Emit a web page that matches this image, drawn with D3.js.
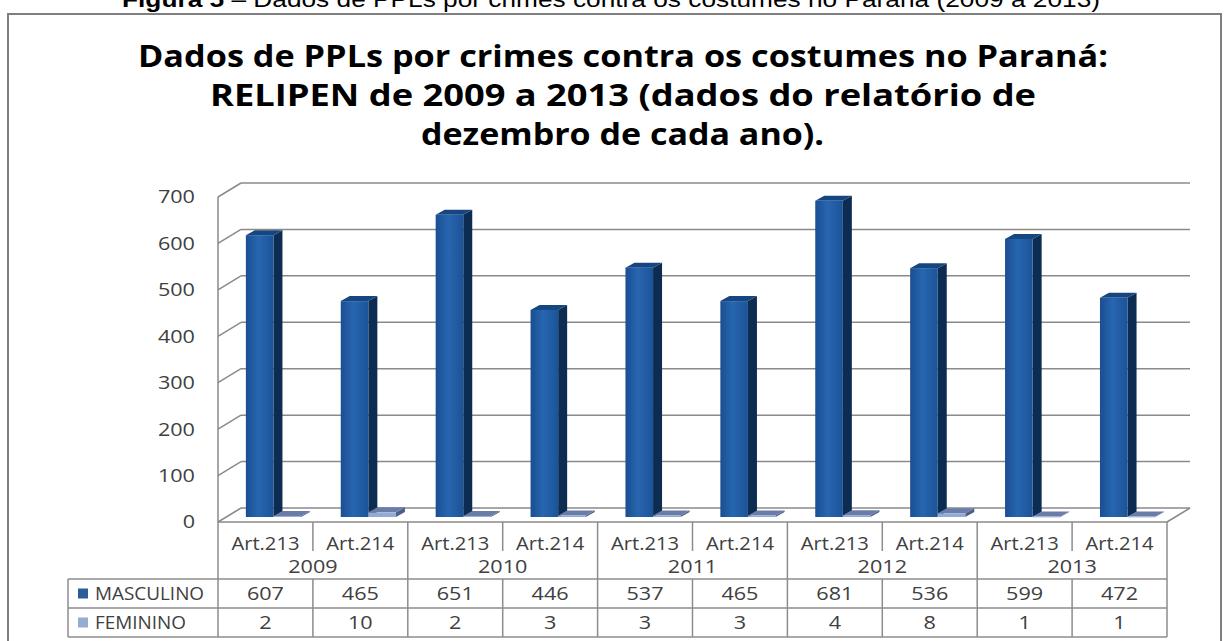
<!DOCTYPE html>
<meta charset="utf-8">
<style>
  body { margin: 0; background: #fff; }
  svg { display: block; }
  .grid { stroke: #8a8a8a; stroke-width: 1.5; fill: none; }
  .tbl { stroke: #8c8c8c; stroke-width: 1.5; fill: none; }
  .lbl { font-family: "Open Sans", sans-serif; font-size: 18px; fill: #404040; }
  .title { font-family: "Open Sans", sans-serif; font-weight: bold; font-size: 31px; fill: #000; }
</style>
<body>
<script src="https://d3js.org/d3.v7.min.js"></script>
<script>

var years = ["2009", "2010", "2011", "2012", "2013"];
var articles = ["Art.213", "Art.214"];
var categories = ["2009|Art.213", "2009|Art.214", "2010|Art.213", "2010|Art.214", "2011|Art.213",
                  "2011|Art.214", "2012|Art.213", "2012|Art.214", "2013|Art.213", "2013|Art.214"];
var masculino = [607, 465, 651, 446, 537, 465, 681, 536, 599, 472];
var feminino = [2, 10, 2, 3, 3, 3, 4, 8, 1, 1];
var series = ["MASCULINO", "FEMININO"];
var yTicks = [0, 100, 200, 300, 400, 500, 600, 700];
var titleLines = ["Dados de PPLs por crimes contra os costumes no Paraná:",
                  "RELIPEN de 2009 a 2013 (dados do relatório de",
                  "dezembro de cada ano)."];

var W = 1228, H = 641;
var svg = d3.select("body").append("svg").attr("width", W).attr("height", H);

// 3d depth of the plot box (back wall is shifted right/up)
var DX = 23, DY = -14;
var x0 = 218, x1 = 1167;

var x = d3.scaleBand().domain(categories).range([x0, x1]);
var xs = d3.scaleBand().domain(series).range([0, x.bandwidth()]).paddingOuter(0.72);
var y = d3.scaleLinear().domain([0, 700]).range([522, 197]);

// stretch text horizontally like the original (wide Calibri)
function stretch(sel, k) {
  sel.each(function() {
    var l = this.getComputedTextLength();
    this.setAttribute("textLength", l * k);
    this.setAttribute("lengthAdjust", "spacingAndGlyphs");
  });
}

// outer frame
svg.append("rect").attr("x", 8).attr("y", 14).attr("width", 1213).attr("height", 640)
  .attr("fill", "none").attr("stroke", "#7f7f7f").attr("stroke-width", 2);

// caption (partially cut at the top)
var cap = svg.append("text").attr("x", 122).attr("y", 7)
  .style("font-family", "'Liberation Sans', Arial, sans-serif").style("font-size", "22px");
cap.append("tspan").style("font-weight", "bold").text("Figura 5");
cap.append("tspan").text(" – Dados de PPLs por crimes contra os costumes no Paraná (2009 a 2013)");
cap.attr("textLength", 978).attr("lengthAdjust", "spacingAndGlyphs");

// title
var tPos = [[138, 1108, 67], [210, 1036, 106], [421, 824, 145]];
svg.selectAll(".title").data(titleLines).join("text")
  .attr("class", "title")
  .attr("x", function(d, i) { return tPos[i][0]; })
  .attr("y", function(d, i) { return tPos[i][2]; })
  .attr("textLength", function(d, i) { return tPos[i][1] - tPos[i][0]; })
  .attr("lengthAdjust", "spacingAndGlyphs")
  .text(function(d) { return d; });

// gridlines: back wall + left wall diagonals
var g = svg.append("g");
g.selectAll(".gb").data(yTicks).join("line").attr("class", "grid")
  .attr("x1", x0 + DX).attr("x2", x1 + DX)
  .attr("y1", function(d) { return y(d) + DY; }).attr("y2", function(d) { return y(d) + DY; });
g.selectAll(".gl").data(yTicks).join("line").attr("class", "grid")
  .attr("x1", x0).attr("x2", x0 + DX)
  .attr("y1", function(d) { return y(d); }).attr("y2", function(d) { return y(d) + DY; });
// front vertical axis + floor
g.append("line").attr("class", "grid").attr("x1", x0).attr("x2", x0).attr("y1", y(700)).attr("y2", y(0));
g.append("line").attr("class", "grid").attr("x1", x0).attr("x2", x1).attr("y1", y(0)).attr("y2", y(0));
g.append("line").attr("class", "grid").attr("x1", x1).attr("x2", x1 + DX).attr("y1", y(0)).attr("y2", y(0) + DY);

// y tick labels
svg.selectAll(".yt").data(yTicks).join("text").attr("class", "lbl")
  .attr("x", 195).attr("y", function(d) { return y(d); }).attr("dy", "0.36em")
  .attr("text-anchor", "end").text(function(d) { return d; })
  .call(stretch, 1.2);

// 3d columns
var defs = svg.append("defs");
var grad = defs.append("linearGradient").attr("id", "mfront").attr("x1", 0).attr("x2", 1).attr("y1", 0).attr("y2", 0);
grad.append("stop").attr("offset", "0%").attr("stop-color", "#1a4e91");
grad.append("stop").attr("offset", "45%").attr("stop-color", "#2766b0");
grad.append("stop").attr("offset", "100%").attr("stop-color", "#1c5398");

var bf = {dx: 8, dy: -5}, bd = {dx: 9, dy: -5};
var colors = {
  MASCULINO: {front: "url(#mfront)", side: "#0c2c52", top: "#15467f"},
  FEMININO: {front: "#93a9d6", side: "#4d5f88", top: "#6a7ca8"}
};
var barData = [];
categories.forEach(function(c, i) {
  barData.push({cat: c, s: "MASCULINO", v: masculino[i]});
  barData.push({cat: c, s: "FEMININO", v: feminino[i]});
});
var bars = svg.append("g").selectAll("g").data(barData).join("g");
bars.each(function(d) {
  var el = d3.select(this);
  var L = x(d.cat) + xs(d.s) + bf.dx, R = L + xs.bandwidth();
  var B = y(0) + bf.dy, T = y(d.v) + bf.dy;
  var c = colors[d.s];
  el.append("polygon").attr("fill", c.side)
    .attr("points", [[R, B], [R + bd.dx, B + bd.dy], [R + bd.dx, T + bd.dy], [R, T]].join(" "));
  el.append("polygon").attr("fill", c.top)
    .attr("points", [[L, T], [R, T], [R + bd.dx, T + bd.dy], [L + bd.dx, T + bd.dy]].join(" "));
  el.append("rect").attr("fill", c.front).attr("x", L).attr("y", T)
    .attr("width", R - L).attr("height", Math.max(B - T, 0.8));
});

// data table
var rowCat = 544, rowYear = 567, rM = [579, 608], rF = [608, 637];
var t = svg.append("g");
// horizontal lines
t.append("line").attr("class", "tbl").attr("x1", 68).attr("x2", x1).attr("y1", rM[0]).attr("y2", rM[0]);
t.append("line").attr("class", "tbl").attr("x1", 68).attr("x2", x1).attr("y1", rF[0]).attr("y2", rF[0]);
t.append("line").attr("class", "tbl").attr("x1", 68).attr("x2", x1).attr("y1", rF[1]).attr("y2", rF[1]);
t.append("line").attr("class", "tbl").attr("x1", 68).attr("x2", 68).attr("y1", rM[0]).attr("y2", rF[1]);
// vertical lines
categories.forEach(function(c, i) {
  var xx = x(c);
  var yearEdge = i % 2 === 0;
  t.append("line").attr("class", "tbl").attr("x1", xx).attr("x2", xx)
    .attr("y1", yearEdge ? y(0) : rM[0]).attr("y2", rF[1]);
  if (!yearEdge) t.append("line").attr("class", "tbl").attr("x1", xx).attr("x2", xx)
    .attr("y1", y(0)).attr("y2", 551);
});
t.append("line").attr("class", "tbl").attr("x1", x1).attr("x2", x1).attr("y1", y(0)).attr("y2", rF[1]);

var cx = function(c) { return x(c) + x.bandwidth() / 2; };
t.selectAll(".ct").data(categories).join("text").attr("class", "lbl")
  .attr("x", cx).attr("y", rowCat).attr("dy", "0.36em").attr("text-anchor", "middle")
  .text(function(d) { return d.split("|")[1]; }).call(stretch, 1.12);
t.selectAll(".yr").data(years).join("text").attr("class", "lbl")
  .attr("x", function(d) { return x(d + "|Art.214"); }).attr("y", rowYear).attr("dy", "0.36em")
  .attr("text-anchor", "middle").text(function(d) { return d; }).call(stretch, 1.2);
t.selectAll(".vm").data(masculino).join("text").attr("class", "lbl")
  .attr("x", function(d, i) { return cx(categories[i]); }).attr("y", (rM[0] + rM[1]) / 2).attr("dy", "0.36em")
  .attr("text-anchor", "middle").text(function(d) { return d; }).call(stretch, 1.2);
t.selectAll(".vf").data(feminino).join("text").attr("class", "lbl")
  .attr("x", function(d, i) { return cx(categories[i]); }).attr("y", (rF[0] + rF[1]) / 2).attr("dy", "0.36em")
  .attr("text-anchor", "middle").text(function(d) { return d; }).call(stretch, 1.2);

// legend keys in table
var legendColor = {MASCULINO: "#2d5c9a", FEMININO: "#94add0"};
series.forEach(function(s, i) {
  var r = i === 0 ? rM : rF, mid = (r[0] + r[1]) / 2;
  t.append("rect").attr("x", 78).attr("y", mid - 5).attr("width", 10).attr("height", 10).attr("fill", legendColor[s]);
  t.append("text").attr("class", "lbl").attr("x", 95).attr("y", mid).attr("dy", "0.36em").text(s)
    .call(stretch, 1.05);
});
</script>
</body>
